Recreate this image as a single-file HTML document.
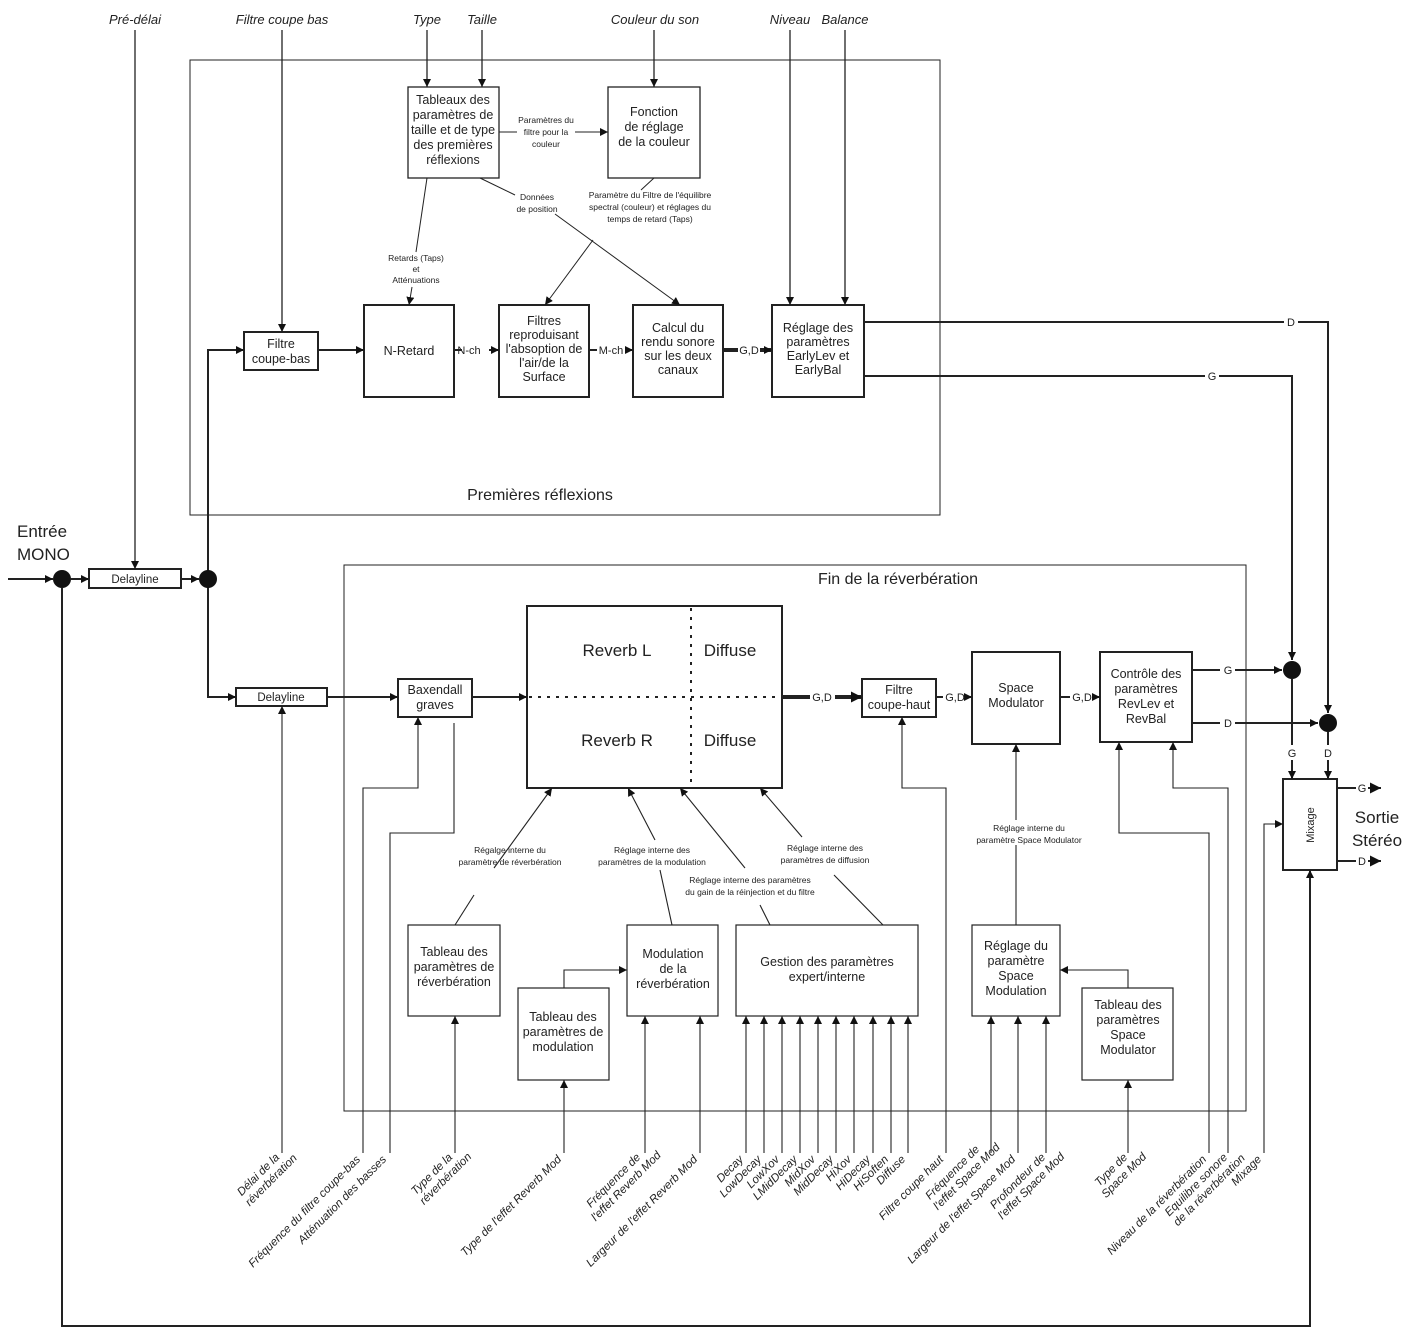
<!DOCTYPE html>
<html><head><meta charset="utf-8"><style>
html,body{margin:0;padding:0;background:#fff}
svg{display:block;font-family:"Liberation Sans",Arial,sans-serif}
</style></head><body>
<svg width="1404" height="1337" viewBox="0 0 1404 1337" xmlns="http://www.w3.org/2000/svg">
<defs>
<marker id="a" viewBox="0 0 10 10" refX="10" refY="5" markerWidth="8" markerHeight="8" markerUnits="userSpaceOnUse" orient="auto"><path d="M0,0L10,5L0,10z" fill="#111"/></marker>
<marker id="b" viewBox="0 0 10 10" refX="10" refY="5" markerWidth="11" markerHeight="11" markerUnits="userSpaceOnUse" orient="auto"><path d="M0,0L10,5L0,10z" fill="#111"/></marker>
</defs>
<g fill="none" stroke="#222">
<rect x="190" y="60" width="750" height="455" stroke-width="1"/>
<rect x="344" y="565" width="902" height="546" stroke-width="1"/>
<g stroke-width="1.3">
<rect x="408" y="87" width="91" height="91"/>
<rect x="608" y="87" width="92" height="91"/>
</g>
<g stroke-width="2">
<rect x="244" y="332" width="74" height="38"/>
<rect x="364" y="305" width="90" height="92"/>
<rect x="499" y="305" width="90" height="92"/>
<rect x="633" y="305" width="90" height="92"/>
<rect x="772" y="305" width="92" height="92"/>
<rect x="89" y="569" width="92" height="19"/>
<rect x="236" y="688" width="91" height="18"/>
<rect x="398" y="679" width="74" height="38"/>
<rect x="527" y="606" width="255" height="182"/>
<rect x="862" y="679" width="74" height="38"/>
<rect x="972" y="652" width="88" height="92"/>
<rect x="1100" y="652" width="92" height="90"/>
<rect x="1283" y="779" width="54" height="91"/>
</g>
<g stroke-width="1.2">
<rect x="408" y="925" width="92" height="91"/>
<rect x="518" y="988" width="91" height="92"/>
<rect x="627" y="925" width="91" height="91"/>
<rect x="736" y="925" width="182" height="91"/>
<rect x="972" y="925" width="88" height="91"/>
<rect x="1082" y="988" width="91" height="92"/>
</g>
<line x1="691" y1="608" x2="691" y2="786" stroke-width="2" stroke-dasharray="3,6"/>
<line x1="529" y1="697" x2="780" y2="697" stroke-width="2" stroke-dasharray="3,6"/>
<g stroke-width="1.3" marker-end="url(#a)">
<line x1="135" y1="30" x2="135" y2="569"/>
<line x1="282" y1="30" x2="282" y2="332"/>
<line x1="427" y1="30" x2="427" y2="87"/>
<line x1="482" y1="30" x2="482" y2="87"/>
<line x1="654" y1="30" x2="654" y2="87"/>
<line x1="790" y1="30" x2="790" y2="305"/>
<line x1="845" y1="30" x2="845" y2="305"/>
</g>
<g stroke-width="1">
<line x1="499" y1="132" x2="517" y2="132"/>
<line x1="575" y1="132" x2="608" y2="132" marker-end="url(#a)"/>
<line x1="654" y1="178" x2="641" y2="190"/>
<line x1="593" y1="240" x2="545" y2="305" marker-end="url(#a)"/>
<line x1="480" y1="178" x2="515" y2="195"/>
<line x1="555" y1="214" x2="680" y2="305" marker-end="url(#a)"/>
<line x1="427" y1="178" x2="416" y2="252"/>
<line x1="412" y1="287" x2="409" y2="305" marker-end="url(#a)"/>
</g>
<g stroke-width="2">
<line x1="8" y1="579" x2="53" y2="579" marker-end="url(#a)"/>
<line x1="71" y1="579" x2="89" y2="579" marker-end="url(#a)"/>
<line x1="181" y1="579" x2="199" y2="579" marker-end="url(#a)"/>
<polyline points="208,579 208,350 244,350" marker-end="url(#a)"/>
<polyline points="208,579 208,697 236,697" marker-end="url(#a)"/>
<line x1="318" y1="350" x2="364" y2="350" marker-end="url(#a)"/>
<line x1="454" y1="350" x2="462" y2="350"/>
<line x1="489" y1="350" x2="499" y2="350" marker-end="url(#a)"/>
<line x1="589" y1="350" x2="597" y2="350"/>
<line x1="625" y1="350" x2="633" y2="350" marker-end="url(#a)"/>
<line x1="327" y1="697" x2="398" y2="697" marker-end="url(#a)"/>
<line x1="472" y1="697" x2="527" y2="697" marker-end="url(#a)"/>
<line x1="936" y1="697" x2="943" y2="697"/>
<line x1="966" y1="697" x2="972" y2="697" marker-end="url(#a)"/>
<line x1="1060" y1="697" x2="1070" y2="697"/>
<line x1="1093" y1="697" x2="1100" y2="697" marker-end="url(#a)"/>
<polyline points="864,322 1284,322"/>
<polyline points="1298,322 1328,322 1328,713" marker-end="url(#a)"/>
<polyline points="864,376 1205,376"/>
<polyline points="1219,376 1292,376 1292,660" marker-end="url(#a)"/>
<line x1="1192" y1="670" x2="1220" y2="670"/>
<line x1="1235" y1="670" x2="1282" y2="670" marker-end="url(#a)"/>
<line x1="1192" y1="723" x2="1220" y2="723"/>
<line x1="1235" y1="723" x2="1318" y2="723" marker-end="url(#a)"/>
<line x1="1292" y1="679" x2="1292" y2="745"/>
<line x1="1292" y1="760" x2="1292" y2="779" marker-end="url(#a)"/>
<line x1="1328" y1="732" x2="1328" y2="745"/>
<line x1="1328" y1="760" x2="1328" y2="779" marker-end="url(#a)"/>
<line x1="1337" y1="788" x2="1356" y2="788"/>
<line x1="1368" y1="788" x2="1381" y2="788" marker-end="url(#b)"/>
<line x1="1337" y1="861" x2="1356" y2="861"/>
<line x1="1368" y1="861" x2="1381" y2="861" marker-end="url(#b)"/>
<polyline points="62,588 62,1326 1310,1326 1310,870" marker-end="url(#a)"/>
</g>
<g stroke-width="4">
<line x1="723" y1="350" x2="738" y2="350"/>
<line x1="760" y1="350" x2="772" y2="350" marker-end="url(#a)"/>
<line x1="782" y1="697" x2="810" y2="697"/>
<line x1="835" y1="697" x2="862" y2="697" marker-end="url(#b)"/>
</g>
<g stroke-width="1.1">
<line x1="282" y1="1153" x2="282" y2="706" marker-end="url(#a)"/>
<polyline points="363,1153 363,788 418,788 418,717" marker-end="url(#a)"/>
<polyline points="390,1153 390,833 454,833 454,723"/>
<line x1="494" y1="868" x2="552" y2="788" marker-end="url(#a)"/>
<line x1="474" y1="895" x2="455" y2="925"/>
<line x1="655" y1="840" x2="628" y2="788" marker-end="url(#a)"/>
<line x1="660" y1="870" x2="672" y2="925"/>
<line x1="745" y1="868" x2="680" y2="788" marker-end="url(#a)"/>
<line x1="760" y1="905" x2="770" y2="925"/>
<line x1="802" y1="837" x2="760" y2="788" marker-end="url(#a)"/>
<line x1="834" y1="875" x2="883" y2="925"/>
<line x1="455" y1="1153" x2="455" y2="1016" marker-end="url(#a)"/>
<line x1="564" y1="1153" x2="564" y2="1080" marker-end="url(#a)"/>
<polyline points="564,988 564,970 627,970" marker-end="url(#a)"/>
<line x1="645" y1="1153" x2="645" y2="1016" marker-end="url(#a)"/>
<line x1="700" y1="1153" x2="700" y2="1016" marker-end="url(#a)"/>
<line x1="746" y1="1153" x2="746" y2="1016" marker-end="url(#a)"/>
<line x1="764" y1="1153" x2="764" y2="1016" marker-end="url(#a)"/>
<line x1="782" y1="1153" x2="782" y2="1016" marker-end="url(#a)"/>
<line x1="800" y1="1153" x2="800" y2="1016" marker-end="url(#a)"/>
<line x1="818" y1="1153" x2="818" y2="1016" marker-end="url(#a)"/>
<line x1="836" y1="1153" x2="836" y2="1016" marker-end="url(#a)"/>
<line x1="854" y1="1153" x2="854" y2="1016" marker-end="url(#a)"/>
<line x1="873" y1="1153" x2="873" y2="1016" marker-end="url(#a)"/>
<line x1="891" y1="1153" x2="891" y2="1016" marker-end="url(#a)"/>
<line x1="908" y1="1153" x2="908" y2="1016" marker-end="url(#a)"/>
<polyline points="946,1153 946,788 902,788 902,717" marker-end="url(#a)"/>
<line x1="991" y1="1153" x2="991" y2="1016" marker-end="url(#a)"/>
<line x1="1018" y1="1153" x2="1018" y2="1016" marker-end="url(#a)"/>
<line x1="1046" y1="1153" x2="1046" y2="1016" marker-end="url(#a)"/>
<line x1="1016" y1="925" x2="1016" y2="845"/>
<line x1="1016" y1="820" x2="1016" y2="744" marker-end="url(#a)"/>
<line x1="1128" y1="1153" x2="1128" y2="1080" marker-end="url(#a)"/>
<polyline points="1128,988 1128,970 1060,970" marker-end="url(#a)"/>
<polyline points="1209,1153 1209,833 1119,833 1119,742" marker-end="url(#a)"/>
<polyline points="1228,1153 1228,788 1173,788 1173,742" marker-end="url(#a)"/>
<polyline points="1264,1153 1264,824 1283,824" marker-end="url(#a)"/>
</g>
</g>
<g fill="#111">
<circle cx="62" cy="579" r="9"/>
<circle cx="208" cy="579" r="9"/>
<circle cx="1292" cy="670" r="9"/>
<circle cx="1328" cy="723" r="9"/>
</g>
<g fill="#222" font-size="13" font-style="italic" text-anchor="middle">
<text x="135" y="24">Pré-délai</text>
<text x="282" y="24">Filtre coupe bas</text>
<text x="427" y="24">Type</text>
<text x="482" y="24">Taille</text>
<text x="655" y="24">Couleur du son</text>
<text x="790" y="24">Niveau</text>
<text x="845" y="24">Balance</text>
</g>
<g fill="#222" font-size="12.5" text-anchor="middle">
<text x="453" y="104">Tableaux des</text><text x="453" y="119">paramètres de</text><text x="453" y="134">taille et de type</text><text x="453" y="149">des premières</text><text x="453" y="164">réflexions</text>
<text x="654" y="116">Fonction</text><text x="654" y="131">de réglage</text><text x="654" y="146">de la couleur</text>
<text x="281" y="348">Filtre</text><text x="281" y="363">coupe-bas</text>
<text x="409" y="355">N-Retard</text>
<text x="544" y="325">Filtres</text><text x="544" y="339">reproduisant</text><text x="544" y="353">l'absoption de</text><text x="544" y="367">l'air/de la</text><text x="544" y="381">Surface</text>
<text x="678" y="332">Calcul du</text><text x="678" y="346">rendu sonore</text><text x="678" y="360">sur les deux</text><text x="678" y="374">canaux</text>
<text x="818" y="332">Réglage des</text><text x="818" y="346">paramètres</text><text x="818" y="360">EarlyLev et</text><text x="818" y="374">EarlyBal</text>
<text x="135" y="583" font-size="11.5">Delayline</text>
<text x="281" y="701" font-size="11.5">Delayline</text>
<text x="435" y="694">Baxendall</text><text x="435" y="709">graves</text>
<text x="899" y="694">Filtre</text><text x="899" y="709">coupe-haut</text>
<text x="1016" y="692">Space</text><text x="1016" y="707">Modulator</text>
<text x="1146" y="678">Contrôle des</text><text x="1146" y="693">paramètres</text><text x="1146" y="708">RevLev et</text><text x="1146" y="723">RevBal</text>
<text x="454" y="956">Tableau des</text><text x="454" y="971">paramètres de</text><text x="454" y="986">réverbération</text>
<text x="673" y="958">Modulation</text><text x="673" y="973">de la</text><text x="673" y="988">réverbération</text>
<text x="563" y="1021">Tableau des</text><text x="563" y="1036">paramètres de</text><text x="563" y="1051">modulation</text>
<text x="827" y="966">Gestion des paramètres</text><text x="827" y="981">expert/interne</text>
<text x="1016" y="950">Réglage du</text><text x="1016" y="965">paramètre</text><text x="1016" y="980">Space</text><text x="1016" y="995">Modulation</text>
<text x="1128" y="1009">Tableau des</text><text x="1128" y="1024">paramètres</text><text x="1128" y="1039">Space</text><text x="1128" y="1054">Modulator</text>
<text x="1314" y="825" font-size="11" transform="rotate(-90 1314 825)">Mixage</text>
</g>
<g fill="#222" font-size="11" text-anchor="middle">
<text x="469" y="354">N-ch</text>
<text x="611" y="354">M-ch</text>
<text x="749" y="354">G,D</text>
<text x="822" y="701">G,D</text>
<text x="955" y="701">G,D</text>
<text x="1082" y="701">G,D</text>
<text x="1291" y="326">D</text>
<text x="1212" y="380">G</text>
<text x="1228" y="674">G</text>
<text x="1228" y="727">D</text>
<text x="1292" y="757">G</text>
<text x="1328" y="757">D</text>
<text x="1362" y="792">G</text>
<text x="1362" y="865">D</text>
</g>
<g fill="#222" font-size="17" text-anchor="middle">
<text x="540" y="500" font-size="16">Premières réflexions</text>
<text x="898" y="584" font-size="16">Fin de la réverbération</text>
<text x="617" y="656">Reverb L</text>
<text x="730" y="656">Diffuse</text>
<text x="617" y="746">Reverb R</text>
<text x="730" y="746">Diffuse</text>
<text x="1377" y="823">Sortie</text>
<text x="1377" y="846">Stéréo</text>
</g>
<g fill="#222" font-size="17">
<text x="17" y="537">Entrée</text>
<text x="17" y="560">MONO</text>
</g>
<g fill="#222" font-size="8.5" text-anchor="middle">
<text x="546" y="123">Paramètres du</text><text x="546" y="135">filtre pour la</text><text x="546" y="147">couleur</text>
<text x="537" y="200">Données</text><text x="537" y="212">de position</text>
<text x="650" y="198">Paramètre du Filtre de l'équilibre</text><text x="650" y="210">spectral (couleur) et réglages du</text><text x="650" y="222">temps de retard (Taps)</text>
<text x="416" y="261">Retards (Taps)</text><text x="416" y="272">et</text><text x="416" y="283">Atténuations</text>
<text x="510" y="853">Régalge interne du</text><text x="510" y="865">paramètre de réverbération</text>
<text x="652" y="853">Réglage interne des</text><text x="652" y="865">paramètres de la modulation</text>
<text x="750" y="883">Réglage interne des paramètres</text><text x="750" y="895">du gain de la réinjection et du filtre</text>
<text x="825" y="851">Réglage interne des</text><text x="825" y="863">paramètres de diffusion</text>
<text x="1029" y="831">Réglage interne du</text><text x="1029" y="843">paramètre Space Modulator</text>
</g>
<g fill="#222" font-size="11.5" font-style="italic" text-anchor="end">
<text transform="translate(280,1158) rotate(-45)"><tspan x="0" y="0">Délai de la</tspan><tspan x="12" y="13">réverbération</tspan></text>
<text transform="translate(361,1160) rotate(-45)">Fréquence du filtre coupe-bas</text>
<text transform="translate(387,1160) rotate(-45)">Atténuation des basses</text>
<text transform="translate(453,1158) rotate(-45)"><tspan x="0" y="0">Type de la</tspan><tspan x="14" y="13">réverbération</tspan></text>
<text transform="translate(562,1160) rotate(-45)">Type de l'effet Reverb Mod</text>
<text transform="translate(641,1158) rotate(-45)"><tspan x="0" y="0">Fréquence de</tspan><tspan x="16" y="13">l'effet Reverb Mod</tspan></text>
<text transform="translate(698,1160) rotate(-45)">Largeur de l'effet Reverb Mod</text>
<text transform="translate(744,1160) rotate(-45)">Decay</text>
<text transform="translate(762,1160) rotate(-45)">LowDecay</text>
<text transform="translate(780,1160) rotate(-45)">LowXov</text>
<text transform="translate(798,1160) rotate(-45)">LMidDecay</text>
<text transform="translate(816,1160) rotate(-45)">MidXov</text>
<text transform="translate(834,1160) rotate(-45)">MidDecay</text>
<text transform="translate(852,1160) rotate(-45)">HiXov</text>
<text transform="translate(871,1160) rotate(-45)">HiDecay</text>
<text transform="translate(889,1160) rotate(-45)">HiSoften</text>
<text transform="translate(906,1160) rotate(-45)">Diffuse</text>
<text transform="translate(944,1160) rotate(-45)">Filtre coupe haut</text>
<text transform="translate(980,1150) rotate(-45)"><tspan x="0" y="0">Fréquence de</tspan><tspan x="16" y="13">l'effet Space Mod</tspan></text>
<text transform="translate(1016,1160) rotate(-45)">Largeur de l'effet Space Mod</text>
<text transform="translate(1046,1158) rotate(-45)"><tspan x="0" y="0">Profondeur de</tspan><tspan x="14" y="13">l'effet Space Mod</tspan></text>
<text transform="translate(1128,1158) rotate(-45)"><tspan x="0" y="0">Type de</tspan><tspan x="14" y="13">Space Mod</tspan></text>
<text transform="translate(1207,1160) rotate(-45)">Niveau de la réverbération</text>
<text transform="translate(1228,1158) rotate(-45)"><tspan x="0" y="0">Equilibre sonore</tspan><tspan x="12" y="13">de la réverbération</tspan></text>
<text transform="translate(1262,1160) rotate(-45)">Mixage</text>
</g>
</svg>
</body></html>
